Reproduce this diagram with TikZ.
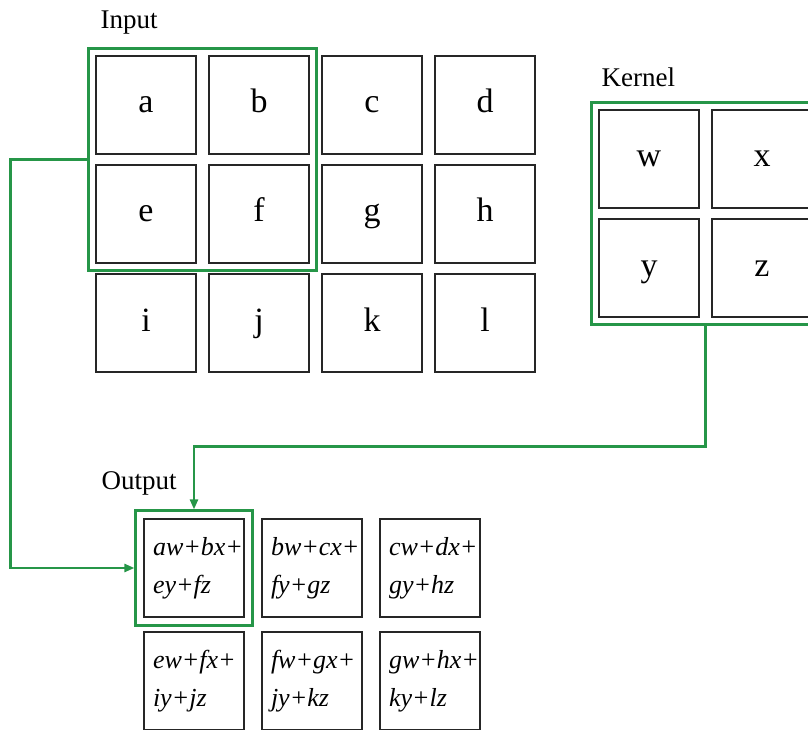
\documentclass[tikz,border=0pt]{standalone}
\usepackage{fontspec}
\setmainfont{Liberation Serif}
\usepackage{tikz}
\usetikzlibrary{arrows.meta,fit}

\definecolor{winGreen}{RGB}{38,150,72}

\begin{document}
\begin{tikzpicture}[x=1pt,y=-1pt,
  every node/.style={font=\fontsize{27}{27}\selectfont},
  cell/.style={draw,line width=2.8pt,draw=black!85,minimum width=100pt,minimum height=98pt,
    inner sep=0pt,font=\fontsize{34}{34}\selectfont,text height=18pt,text depth=2pt},
  sum/.style={cell,align=left,text width=82pt,inner xsep=9pt,
    font=\fontsize{26}{38}\selectfont\itshape,text height=,text depth=},
  window/.style={draw=winGreen,line width=2.4pt,inner sep=6pt},
  link/.style={draw=winGreen,line width=2.4pt,-{Triangle[length=10pt,width=8pt]}}]
  \useasboundingbox (0,0) rectangle (808,730);

  % input matrix
  \node[anchor=base west] (inlbl) at (97,29) {Input};
  \node[cell] (a) at (146,105) {a};
  \node[cell] (b) at (259,105) {b};
  \node[cell] (c) at (372,105) {c};
  \node[cell] (d) at (485,105) {d};
  \node[cell] (e) at (146,214) {e};
  \node[cell] (f) at (259,214) {f};
  \node[cell] (g) at (372,214) {g};
  \node[cell] (h) at (485,214) {h};
  \node[cell] (i) at (146,323) {i};
  \node[cell] (j) at (259,323) {j};
  \node[cell] (k) at (372,323) {k};
  \node[cell] (l) at (485,323) {l};
  \node[window,fit=(a)(f)] (inwin) {};

  % kernel
  \node[anchor=base west] (kerlbl) at (598,87) {Kernel};
  \node[cell] (w) at (649,159) {w};
  \node[cell] (x) at (762,159) {x};
  \node[cell] (y) at (649,268) {y};
  \node[cell] (z) at (762,268) {z};
  \node[window,fit=(w)(z)] (kwin) {};

  % output matrix
  \node[anchor=base west] (outlbl) at (98,489) {Output};
  \node[sum] (o1) at (194,568) {aw+bx+\\ey+fz};
  \node[sum] (o2) at (312,568) {bw+cx+\\fy+gz};
  \node[sum] (o3) at (430,568) {cw+dx+\\gy+hz};
  \node[sum] (o4) at (194,681) {ew+fx+\\iy+jz};
  \node[sum] (o5) at (312,681) {fw+gx+\\jy+kz};
  \node[sum] (o6) at (430,681) {gw+hx+\\ky+lz};
  \node[window,inner sep=7pt,fit=(o1)] (outwin) {};

  \draw[link] (inwin.west) -- ++(-77,0) |- (outwin.west);
  \draw[link] (kwin.south) -- ++(0,121) -| (outwin.north);
\end{tikzpicture}
\end{document}
